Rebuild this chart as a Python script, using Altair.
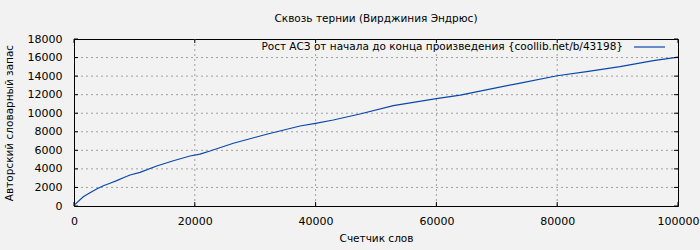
import altair as alt
import pandas as pd

# ---- data ----
words = [0, 170, 1540, 2650, 3750, 4860, 5960, 7070, 8170, 9270, 10930,
         13690, 16450, 19210, 20860, 22520, 26380, 31900, 37420, 40000,
         42930, 47350, 52870, 60000, 63950, 69470, 73880, 80000, 84880,
         90400, 95920, 100000]
vocab = [0, 180, 1000, 1430, 1830, 2190, 2450, 2730, 3050, 3340, 3630,
         4310, 4880, 5390, 5600, 5930, 6760, 7730, 8620, 8910,
         9270, 9920, 10810, 11580, 11960, 12680, 13250, 14040, 14480,
         15020, 15660, 16050]
x_ticks = [0, 20000, 40000, 60000, 80000, 100000]
y_ticks = [0, 2000, 4000, 6000, 8000, 10000, 12000, 14000, 16000, 18000]
x_grid = [20000, 40000, 60000, 80000]
y_grid = [2000, 4000, 6000, 8000, 10000, 12000, 14000, 16000]

chart_title = "Сквозь тернии (Вирджиния Эндрюс)"
x_title = "Счетчик слов"
y_title = "Авторский словарный запас"
legend_label = "Рост АСЗ от начала до конца произведения {coollib.net/b/43198}"

W, H = 604, 167
LINE_COLOR = "#0a47ad"
FONT = "DejaVu Sans"

line_df = pd.DataFrame({"x": words, "y": vocab})
xgrid_df = pd.DataFrame({"x": x_grid})
ygrid_df = pd.DataFrame({"y": y_grid})
xtick_df = pd.DataFrame({"x": x_ticks})
ytick_df = pd.DataFrame({"y": y_ticks})
legend_df = pd.DataFrame({"label": [legend_label]})

xs = alt.Scale(domain=[0, 100000], nice=False, zero=False)
ys = alt.Scale(domain=[0, 18000], nice=False, zero=False)

x_axis = alt.Axis(values=x_ticks, title=x_title, grid=False, ticks=False,
                  domain=False, labelFont=FONT, labelFontSize=11,
                  labelColor="#000000", labelPadding=9, titleFont=FONT,
                  titleFontSize=10.5, titleFontWeight="normal",
                  titleColor="#000000", titlePadding=7, format="d",
                  labelFlush=False, labelOverlap=False)
y_axis = alt.Axis(values=y_ticks, title=y_title, grid=False, ticks=False,
                  domain=False, labelFont=FONT, labelFontSize=11,
                  labelColor="#000000", labelPadding=12, titleFont=FONT,
                  titleFontSize=10.5, titleFontWeight="normal",
                  titleColor="#000000", titlePadding=13, format="d",
                  labelFlush=False, labelOverlap=False)

X = alt.X("x:Q", scale=xs, axis=x_axis)
Y = alt.Y("y:Q", scale=ys, axis=y_axis)

grid_style = dict(color="#a0a0a0", strokeDash=[2, 3], strokeWidth=1)

xgrid = alt.Chart(xgrid_df).mark_rule(**grid_style).encode(x=X)
ygrid = alt.Chart(ygrid_df).mark_rule(**grid_style).encode(y=Y)

tick_style = dict(color="#000000", strokeWidth=1)
xt_bottom = alt.Chart(xtick_df).mark_rule(**tick_style).encode(
    x=X, y=alt.value(H), y2=alt.value(H - 4))
xt_top = alt.Chart(xtick_df).mark_rule(**tick_style).encode(
    x=X, y=alt.value(0), y2=alt.value(4))
yt_left = alt.Chart(ytick_df).mark_rule(**tick_style).encode(
    y=Y, x=alt.value(0), x2=alt.value(4))
yt_right = alt.Chart(ytick_df).mark_rule(**tick_style).encode(
    y=Y, x=alt.value(W), x2=alt.value(W - 4))

line = alt.Chart(line_df).mark_line(color=LINE_COLOR, strokeWidth=1.2).encode(
    x=X, y=Y)

legend_text = alt.Chart(legend_df).mark_text(
    align="right", baseline="middle", font=FONT, fontSize=10.5,
    color="#000000").encode(text="label:N", x=alt.value(549), y=alt.value(8))
legend_line = alt.Chart(legend_df).mark_rule(
    color=LINE_COLOR, strokeWidth=1.2).encode(
    x=alt.value(560), x2=alt.value(591), y=alt.value(8))

chart = alt.layer(
    xgrid, ygrid, line, xt_bottom, xt_top, yt_left, yt_right,
    legend_text, legend_line
).properties(
    width=W, height=H,
    title=alt.TitleParams(chart_title, font=FONT, fontSize=10.5,
                          fontWeight="normal", color="#000000",
                          anchor="middle", offset=9),
    background="#f2f2f2",
    padding={"left": 74, "top": 39, "right": 22, "bottom": 44},
    autosize=alt.AutoSizeParams(type="none"),
).configure_view(
    stroke="#000000", strokeWidth=1, fill="#f2f2f2"
)

chart.save("out.html", embed_options={"renderer": "svg", "actions": False})
